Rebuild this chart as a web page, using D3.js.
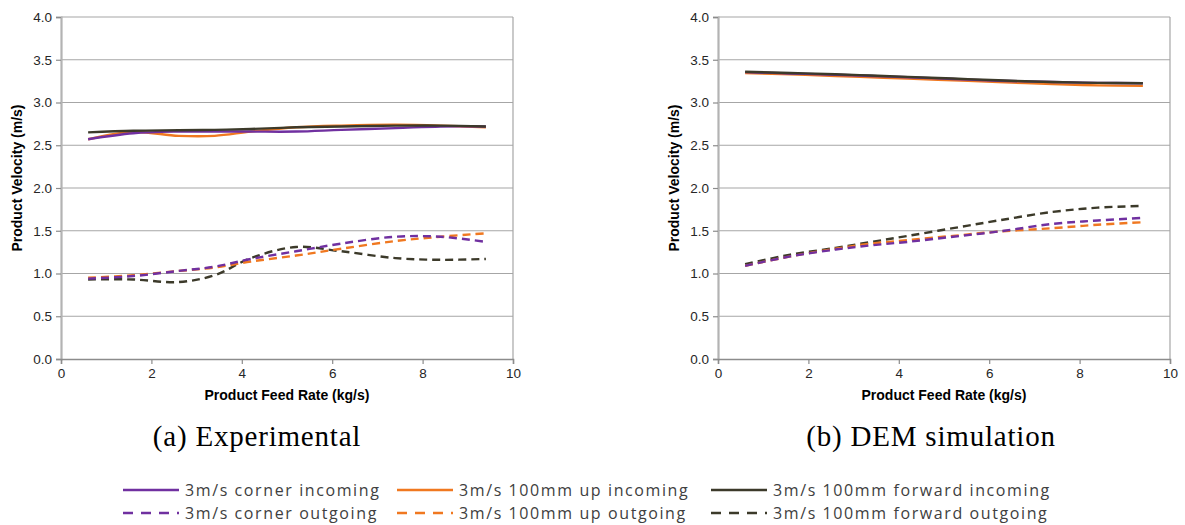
<!DOCTYPE html>
<html>
<head>
<meta charset="utf-8">
<script src="https://cdn.jsdelivr.net/npm/d3@7"></script>
<style>
  html, body { margin: 0; padding: 0; background: #fff; }
  svg { display: block; }
</style>
</head>
<body>
<svg id="fig" width="1185" height="525"></svg>
<script>
// Feed rates at which velocities were sampled (kg/s)
const feedRates = [0.6, 1.6, 2.6, 3.4, 4.2, 5.2, 6.2, 7.4, 8.4, 9.4];

// (a) Experimental product velocities (m/s)
const expCornerIn    = [2.57, 2.64, 2.66, 2.66, 2.66, 2.66, 2.68, 2.70, 2.72, 2.72];
const expUpIn        = [2.57, 2.655, 2.61, 2.61, 2.66, 2.71, 2.73, 2.74, 2.73, 2.71];
const expForwardIn   = [2.65, 2.67, 2.675, 2.68, 2.69, 2.71, 2.72, 2.73, 2.73, 2.72];
const expCornerOut   = [0.94, 0.97, 1.03, 1.08, 1.17, 1.26, 1.35, 1.43, 1.43, 1.37];
const expUpOut       = [0.95, 0.98, 1.03, 1.07, 1.14, 1.21, 1.29, 1.38, 1.43, 1.47];
const expForwardOut  = [0.93, 0.93, 0.90, 0.98, 1.18, 1.31, 1.26, 1.18, 1.16, 1.17];

// (b) DEM simulation product velocities (m/s)
const demCornerIn    = [3.355, 3.34, 3.325, 3.31, 3.295, 3.275, 3.255, 3.24, 3.23, 3.225];
const demUpIn        = [3.345, 3.33, 3.31, 3.295, 3.28, 3.26, 3.24, 3.215, 3.20, 3.195];
const demForwardIn   = [3.36, 3.345, 3.33, 3.315, 3.30, 3.28, 3.26, 3.24, 3.23, 3.225];
const demCornerOut   = [1.09, 1.20, 1.28, 1.33, 1.37, 1.43, 1.49, 1.58, 1.62, 1.65];
const demUpOut       = [1.09, 1.20, 1.29, 1.35, 1.39, 1.44, 1.49, 1.53, 1.57, 1.60];
const demForwardOut  = [1.11, 1.22, 1.30, 1.37, 1.44, 1.53, 1.62, 1.72, 1.77, 1.79];

// Axis ticks
const xTicks = [0, 2, 4, 6, 8, 10];
const yTicks = [0, 0.5, 1.0, 1.5, 2.0, 2.5, 3.0, 3.5, 4.0];

// Series labels and styling keys
const seriesNames = [
  "3m/s corner incoming", "3m/s 100mm up incoming", "3m/s 100mm forward incoming",
  "3m/s corner outgoing", "3m/s 100mm up outgoing", "3m/s 100mm forward outgoing"
];
const seriesColors = ["#7030a0", "#f07820", "#3c3a2a", "#7030a0", "#f07820", "#3c3a2a"];
const seriesDashed = [false, false, false, true, true, true];

const panelTitles = ["(a) Experimental", "(b) DEM simulation"];
const xTitle = "Product Feed Rate (kg/s)";
const yTitle = "Product Velocity (m/s)";

const panels = [
  { left: 61,  captionX: 257, title: panelTitles[0],
    series: [expCornerIn, expUpIn, expForwardIn, expCornerOut, expUpOut, expForwardOut] },
  { left: 718, captionX: 931, title: panelTitles[1],
    series: [demCornerIn, demUpIn, demForwardIn, demCornerOut, demUpOut, demForwardOut] }
];

const svg = d3.select("#fig");
const plotW = 452, plotTop = 17, plotBottom = 359;
const font = "'Liberation Sans', Arial, sans-serif";

// draw order: outgoing first, incoming forward last so it sits on top
const drawOrder = [5, 4, 3, 1, 0, 2];

panels.forEach(p => {
  const x = d3.scaleLinear().domain([0, 10]).range([p.left, p.left + plotW]);
  const y = d3.scaleLinear().domain([0, 4]).range([plotBottom, plotTop]);
  const g = svg.append("g");

  // horizontal gridlines
  g.selectAll("line.grid").data(yTicks.filter(t => t > 0)).join("line")
    .attr("class", "grid")
    .attr("x1", p.left).attr("x2", p.left + plotW)
    .attr("y1", d => y(d)).attr("y2", d => y(d))
    .attr("stroke", "#a6a6a6").attr("stroke-width", 1.2);

  // right border of plot area
  g.append("line")
    .attr("x1", p.left + plotW).attr("x2", p.left + plotW)
    .attr("y1", plotTop).attr("y2", plotBottom)
    .attr("stroke", "#a6a6a6").attr("stroke-width", 1.2);

  // y axis
  const yAxis = g.append("g").attr("transform", `translate(${p.left},0)`)
    .call(d3.axisLeft(y).tickValues(yTicks).tickFormat(d3.format(".1f")).tickSize(5).tickPadding(4));
  yAxis.select(".domain").attr("stroke", "#b3b3b3").attr("stroke-width", 2.2);
  yAxis.selectAll(".tick line").attr("stroke", "#8c8c8c").attr("stroke-width", 1.2);
  yAxis.selectAll(".tick text").attr("font-family", font).attr("font-size", 13.5).attr("fill", "#262626");

  // x axis
  const xAxis = g.append("g").attr("transform", `translate(0,${plotBottom})`)
    .call(d3.axisBottom(x).tickValues(xTicks).tickFormat(d3.format("d")).tickSize(5).tickPadding(4));
  xAxis.select(".domain").attr("stroke", "#8c8c8c").attr("stroke-width", 1.5);
  xAxis.selectAll(".tick line").attr("stroke", "#8c8c8c").attr("stroke-width", 1.2);
  xAxis.selectAll(".tick text").attr("font-family", font).attr("font-size", 13.5).attr("fill", "#262626");

  // axis titles
  g.append("text")
    .attr("x", p.left + plotW / 2).attr("y", 400)
    .attr("text-anchor", "middle").attr("font-family", font)
    .attr("font-size", 14).attr("font-weight", "bold").attr("fill", "#000")
    .text(xTitle);
  g.append("text")
    .attr("transform", `translate(${p.left - 39},${(plotTop + plotBottom) / 2 - 10}) rotate(-90)`)
    .attr("text-anchor", "middle").attr("font-family", font)
    .attr("font-size", 14).attr("font-weight", "bold").attr("fill", "#000")
    .text(yTitle);

  // series lines
  const line = d3.line()
    .x((d, i) => x(feedRates[i]))
    .y(d => y(d))
    .curve(d3.curveCatmullRom.alpha(0.5));
  drawOrder.forEach(k => {
    g.append("path")
      .datum(p.series[k])
      .attr("d", line)
      .attr("fill", "none")
      .attr("stroke", seriesColors[k])
      .attr("stroke-width", 2.4)
      .attr("stroke-dasharray", seriesDashed[k] ? "8,5" : null)
      .attr("stroke-linecap", "butt");
  });

  // panel caption
  g.append("text")
    .attr("x", p.captionX).attr("y", 446)
    .attr("text-anchor", "middle")
    .attr("font-family", "'Liberation Serif', 'DejaVu Serif', serif")
    .attr("font-size", 29).attr("letter-spacing", 0.8).attr("fill", "#000")
    .text(p.title);
});

// legend: three columns, incoming row above outgoing row
const legendCols = [123, 397, 711];
const legendRows = [490, 513];
const legend = svg.append("g");
seriesNames.forEach((name, k) => {
  const col = k % 3, row = Math.floor(k / 3);
  const lx = legendCols[col], ly = legendRows[row];
  legend.append("line")
    .attr("x1", lx).attr("x2", lx + 56)
    .attr("y1", ly).attr("y2", ly)
    .attr("stroke", seriesColors[k]).attr("stroke-width", 2.6)
    .attr("stroke-dasharray", seriesDashed[k] ? "10,8" : null);
  legend.append("text")
    .attr("x", lx + 62).attr("y", ly + 6)
    .attr("font-family", "'Open Sans', 'Noto Sans', sans-serif")
    .attr("font-size", 16).attr("letter-spacing", 1.6).attr("fill", "#404040")
    .text(name);
});
</script>
</body>
</html>
